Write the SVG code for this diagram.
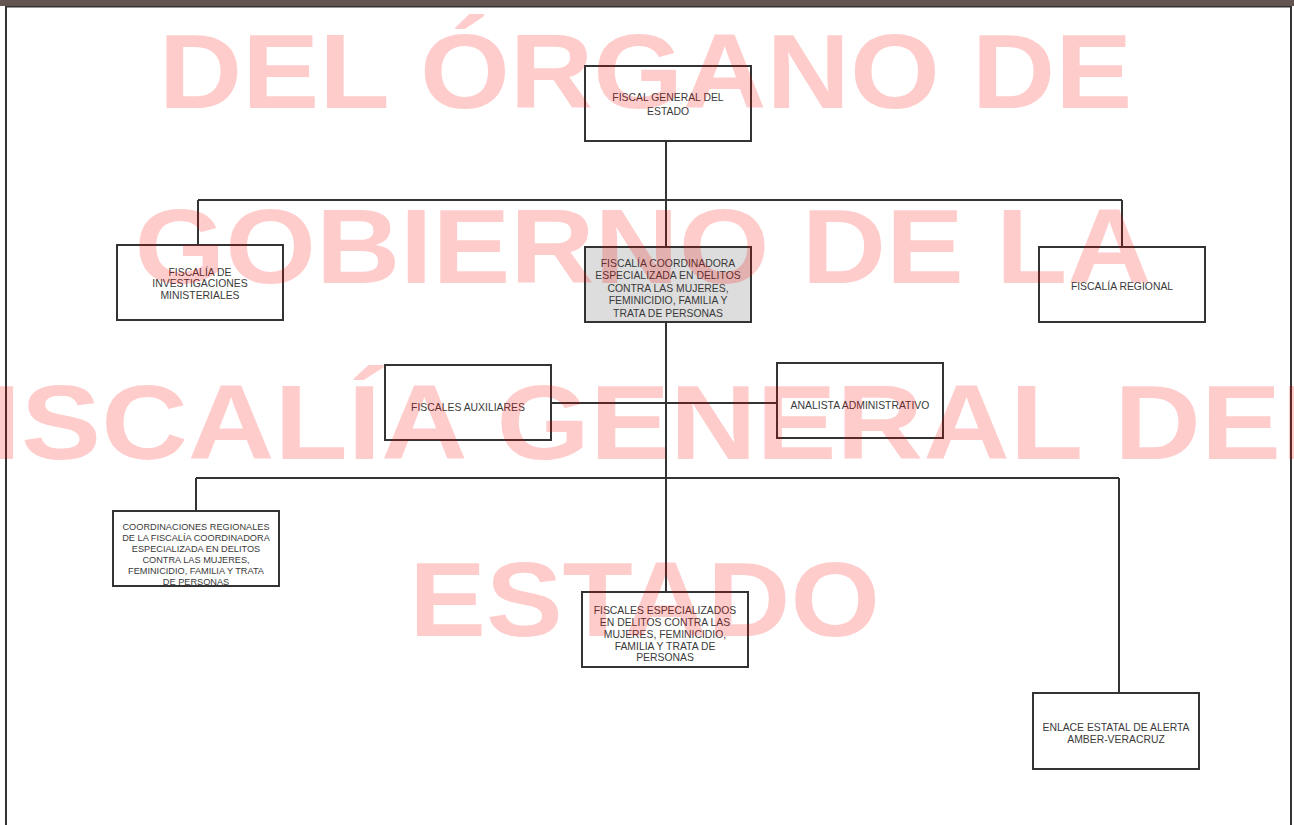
<svg xmlns="http://www.w3.org/2000/svg" width="1294" height="825" viewBox="0 0 1294 825">
<style>
.box{fill:#ffffff;stroke:#333333;stroke-width:2}
.box.hl{fill:#dddddd}
.lbl{font-family:"Liberation Sans",Arial,sans-serif;font-size:10.4px;fill:#3a3a3a;text-anchor:middle}
.lbl.sm{font-size:9.2px}
.conn{fill:none;stroke:#333333;stroke-width:2}
.wm{font-family:"Liberation Sans",Arial,sans-serif;font-weight:bold;font-size:106px;fill:#ff0000;fill-opacity:0.2;text-anchor:middle}
</style>
<rect x="0" y="0" width="1294" height="825" fill="#ffffff"/>
<rect x="0" y="0" width="1294" height="6" fill="#655550"/>
<rect x="5" y="6" width="1287" height="1.5" fill="#333333"/>
<rect x="5" y="6" width="2" height="819" fill="#333333"/>
<rect x="1290" y="6" width="2" height="819" fill="#333333"/>

<g id="connectors">
<path class="conn" d="M666,141 V247"/>
<path class="conn" d="M198,200 H1122"/>
<path class="conn" d="M198,200 V245"/>
<path class="conn" d="M1122,200 V247"/>
<path class="conn" d="M666,322 V592"/>
<path class="conn" d="M551,403 H777"/>
<path class="conn" d="M196,478 H1119"/>
<path class="conn" d="M196,478 V511"/>
<path class="conn" d="M1119,478 V693"/>
</g>

<g id="fiscal-general">
<rect class="box" x="585" y="66" width="166" height="75"/>
<text class="lbl" x="668" y="101">FISCAL GENERAL DEL</text>
<text class="lbl" x="668" y="114.5">ESTADO</text>
</g>

<g id="fiscalia-investigaciones">
<rect class="box" x="117" y="245" width="166" height="75"/>
<text class="lbl" x="200" y="275.5">FISCALÍA DE</text>
<text class="lbl" x="200" y="287.2">INVESTIGACIONES</text>
<text class="lbl" x="200" y="299">MINISTERIALES</text>
</g>

<g id="fiscalia-coordinadora">
<rect class="box hl" x="585" y="247" width="166" height="75"/>
<text class="lbl" x="668" y="267">FISCALÍA COORDINADORA</text>
<text class="lbl" x="668" y="279.4">ESPECIALIZADA EN DELITOS</text>
<text class="lbl" x="668" y="291.8">CONTRA LAS MUJERES,</text>
<text class="lbl" x="668" y="304.2">FEMINICIDIO, FAMILIA Y</text>
<text class="lbl" x="668" y="316.6">TRATA DE PERSONAS</text>
</g>

<g id="fiscalia-regional">
<rect class="box" x="1039" y="247" width="166" height="75"/>
<text class="lbl" x="1122" y="289.5">FISCALÍA REGIONAL</text>
</g>

<g id="fiscales-auxiliares">
<rect class="box" x="385" y="365" width="166" height="75"/>
<text class="lbl" x="468" y="411">FISCALES AUXILIARES</text>
</g>

<g id="analista-administrativo">
<rect class="box" x="777" y="363" width="166" height="75"/>
<text class="lbl" x="860" y="409">ANALISTA ADMINISTRATIVO</text>
</g>

<g id="coordinaciones-regionales">
<rect class="box" x="113" y="511" width="166" height="75"/>
<text class="lbl sm" x="196" y="529.5">COORDINACIONES REGIONALES</text>
<text class="lbl sm" x="196" y="540.5">DE LA FISCALÍA COORDINADORA</text>
<text class="lbl sm" x="196" y="551.5">ESPECIALIZADA EN DELITOS</text>
<text class="lbl sm" x="196" y="562.5">CONTRA LAS MUJERES,</text>
<text class="lbl sm" x="196" y="573.5">FEMINICIDIO, FAMILIA Y TRATA</text>
<text class="lbl sm" x="196" y="584.5">DE PERSONAS</text>
</g>

<g id="fiscales-especializados">
<rect class="box" x="582" y="592" width="166" height="75"/>
<text class="lbl" x="665" y="613.8">FISCALES ESPECIALIZADOS</text>
<text class="lbl" x="665" y="625.7">EN DELITOS CONTRA LAS</text>
<text class="lbl" x="665" y="637.6">MUJERES, FEMINICIDIO,</text>
<text class="lbl" x="665" y="649.5">FAMILIA Y TRATA DE</text>
<text class="lbl" x="665" y="661.4">PERSONAS</text>
</g>

<g id="enlace-amber">
<rect class="box" x="1033" y="693" width="166" height="76"/>
<text class="lbl" x="1116" y="730.5">ENLACE ESTATAL DE ALERTA</text>
<text class="lbl" x="1116" y="743">AMBER-VERACRUZ</text>
</g>

<g id="watermark">
<text class="wm" transform="translate(645.6,108) scale(1.09,1)">DEL ÓRGANO DE</text>
<text class="wm" transform="translate(643,283) scale(1.1,1)">GOBIERNO DE LA</text>
<text class="wm" transform="translate(634.4,459) scale(1.132,1)">FISCALÍA GENERAL DEL</text>
<text class="wm" transform="translate(644.5,636) scale(1.085,1)">ESTADO</text>
</g>
</svg>
